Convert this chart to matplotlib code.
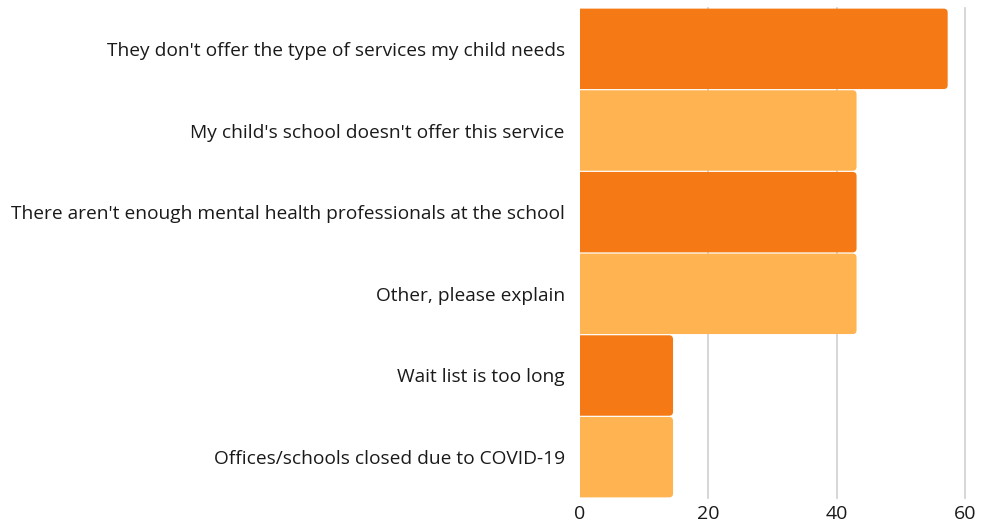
import matplotlib
matplotlib.use("Agg")
import matplotlib.pyplot as plt
from matplotlib.patches import FancyBboxPatch

# survey answers, top to bottom
reasons = [
    "They don't offer the type of services my child needs",
    "My child's school doesn't offer this service",
    "There aren't enough mental health professionals at the school",
    "Other, please explain",
    "Wait list is too long",
    "Offices/schools closed due to COVID-19",
]
percent = [57.1, 42.9, 42.9, 42.9, 14.3, 14.3]
ticks = [0, 20, 40, 60]

dark_orange = "#F57A16"
light_orange = "#FFB351"
colors = [dark_orange if i % 2 == 0 else light_orange for i in range(len(reasons))]

plt.rcParams["font.family"] = ["Open Sans", "DejaVu Sans"]

fig = plt.figure(figsize=(9.89, 5.27), dpi=100)
ax = fig.add_axes([580 / 989, 1 - 498 / 527, 385 / 989, 490 / 527])

y_pos = list(range(len(reasons)))
bars = ax.barh(y_pos, percent, height=0.985, color=colors, zorder=2)

ax.set_xlim(0, 60)
ax.set_ylim(len(reasons) - 0.5, -0.5)

# swap plain bars for ones with rounded right corners
px_x = 385 / 60
px_y = 490 / len(reasons)
radius_px = 4
for bar in bars:
    x0, y0 = bar.get_x(), bar.get_y()
    w, h = bar.get_width(), bar.get_height()
    bar.set_visible(False)
    patch = FancyBboxPatch(
        (x0 - 2, y0), w + 2.2, h,
        boxstyle=f"round,pad=0,rounding_size={radius_px / px_x}",
        mutation_aspect=(radius_px / px_y) / (radius_px / px_x),
        facecolor=bar.get_facecolor(), edgecolor="none", zorder=2,
    )
    patch.set_clip_on(True)
    ax.add_patch(patch)

ax.set_xticks(ticks)
ax.set_xticklabels([str(t) for t in ticks], fontsize=14, color="#1a1a1a")
ax.set_yticks(y_pos)
ax.set_yticklabels(reasons, fontsize=13.8, color="#1a1a1a")
ax.tick_params(axis="both", length=0)
ax.tick_params(axis="y", pad=11)
ax.tick_params(axis="x", pad=5)

# vertical gridlines (skip 0, the bars start there)
for t in ticks[1:]:
    ax.axvline(t, color="#CFCFCF", linewidth=1.2, zorder=0, clip_on=False)
for spine in ax.spines.values():
    spine.set_visible(False)

fig.savefig("out.png", dpi=100)
